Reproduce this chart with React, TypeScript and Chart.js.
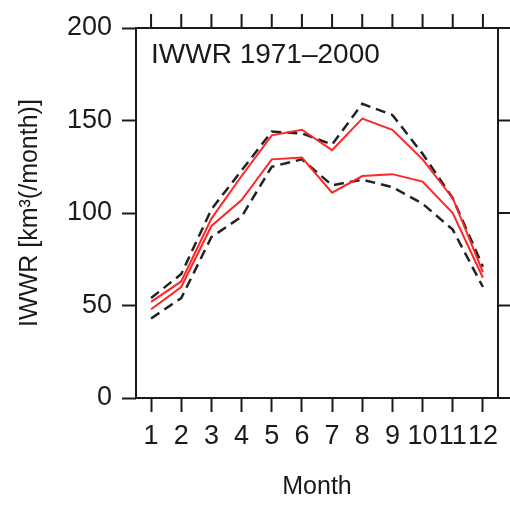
import React, { useEffect, useRef } from "react";
import { Chart, registerables } from "chart.js";

Chart.register(...registerables);

const months = ["1", "2", "3", "4", "5", "6", "7", "8", "9", "10", "11", "12"];
const yTicks = [0, 50, 100, 150, 200];

const upperDashed = [54, 67, 102, 123, 144, 143, 137, 159, 153, 132, 108, 71];
const upperRed = [52, 63, 97, 120, 142, 145, 134, 151, 145, 129, 108, 68];
const lowerRed = [48, 60, 93, 107, 129, 130, 111, 120, 121, 117, 100, 65];
const lowerDashed = [43, 54, 87, 98, 125, 129, 115, 118, 114, 105, 91, 60];

const plotTitle = "IWWR 1971\u20132000";
const yTitle = "IWWR [km\u00B3(/month)]";
const xTitle = "Month";

const FONT = '"Liberation Sans", Arial, Helvetica, sans-serif';
const INK = "#1a1a1a";

export default function App() {
  const ref = useRef<HTMLCanvasElement>(null);

  useEffect(() => {
    if (!ref.current) return;
    const boxPlugin = {
      id: "boxPlugin",
      afterDraw(chart: any) {
        const { ctx, chartArea: a, scales } = chart;
        ctx.save();
        ctx.strokeStyle = INK;
        ctx.lineWidth = 2;
        ctx.strokeRect(a.left, a.top, a.right - a.left, a.bottom - a.top);
        ctx.beginPath();
        months.forEach((_, i) => {
          const x = scales.x.getPixelForTick(i);
          ctx.moveTo(x, a.top);
          ctx.lineTo(x, a.top - 14);
        });
        yTicks.forEach((v) => {
          const y = scales.y.getPixelForValue(v);
          ctx.moveTo(a.right, y);
          ctx.lineTo(a.right + 14, y);
        });
        ctx.stroke();
        ctx.fillStyle = INK;
        ctx.font = `28px ${FONT}`;
        ctx.textBaseline = "alphabetic";
        ctx.textAlign = "left";
        ctx.fillText(plotTitle, a.left + 15, a.top + 35);
        ctx.restore();
      },
    };

    const red = "#ff2626";
    const dash = "#222222";
    const chart = new Chart(ref.current, {
      type: "line",
      data: {
        labels: months,
        datasets: [
          { data: upperRed, borderColor: red, borderWidth: 2, pointRadius: 0, tension: 0 },
          { data: lowerRed, borderColor: red, borderWidth: 2, pointRadius: 0, tension: 0 },
          { data: upperDashed, borderColor: dash, borderWidth: 2.5, borderDash: [10, 6], pointRadius: 0, tension: 0 },
          { data: lowerDashed, borderColor: dash, borderWidth: 2.5, borderDash: [10, 6], pointRadius: 0, tension: 0 },
        ],
      },
      options: {
        animation: false,
        responsive: false,
        events: [],
        layout: { padding: { top: 28, right: 12, left: 0, bottom: 0 } },
        plugins: { legend: { display: false }, tooltip: { enabled: false }, title: { display: false } },
        scales: {
          x: {
            type: "category",
            offset: true,
            grid: { display: true, drawOnChartArea: false, offset: false, tickLength: 14, tickColor: INK, tickWidth: 2 },
            border: { display: false },
            ticks: { autoSkip: false, maxRotation: 0, minRotation: 0, padding: 8, color: INK, font: { family: FONT, size: 27 } },
            title: { display: true, text: xTitle, color: INK, font: { family: FONT, size: 25 }, padding: { top: 0, bottom: 3 } },
            afterFit(scale: any) {
              scale.height = 107;
            },
          },
          y: {
            min: 0,
            max: 200,
            grid: { display: true, drawOnChartArea: false, tickLength: 14, tickColor: INK, tickWidth: 2 },
            border: { display: false },
            ticks: { stepSize: 50, padding: 10, color: INK, font: { family: FONT, size: 27 } },
            title: { display: true, text: yTitle, color: INK, font: { family: FONT, size: 25 }, padding: { top: 15, bottom: 0 } },
            afterFit(scale: any) {
              scale.width = 136;
            },
          },
        },
      },
      plugins: [boxPlugin],
    } as any);
    return () => chart.destroy();
  }, []);

  return (
    <div style={{ position: "absolute", left: 0, top: 0, width: 510, height: 505, background: "#fff" }}>
      <canvas ref={ref} width={510} height={505} style={{ width: 510, height: 505, display: "block" }} />
    </div>
  );
}
